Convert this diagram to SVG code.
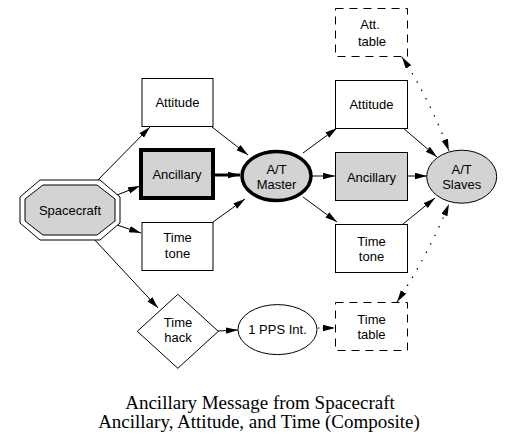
<svg xmlns="http://www.w3.org/2000/svg" width="516" height="447" viewBox="0 0 516 447">
<defs>
<marker id="arr" markerUnits="userSpaceOnUse" markerWidth="13" markerHeight="8" refX="12" refY="3.25" orient="auto-start-reverse">
<path d="M0,0 L12,3.25 L0,6.5 z" fill="#000"/>
</marker>
<style>
.box{fill:#fff;stroke:#000;stroke-width:1}
.gray{fill:#d3d3d3}
.dash{fill:#fff;stroke:#000;stroke-width:1;stroke-dasharray:8,6}
.t{font-family:"Liberation Sans",Arial,sans-serif;font-size:13px;text-anchor:middle;fill:#000}
.title{font-family:"Liberation Serif","Times New Roman",serif;font-size:19px;text-anchor:middle;fill:#000}
.e{fill:none;stroke:#000;stroke-width:1;marker-end:url(#arr)}
.dot{fill:none;stroke:#000;stroke-width:1.2;stroke-dasharray:1.5,8;marker-end:url(#arr);marker-start:url(#arr)}
</style>
</defs>
<rect width="516" height="447" fill="#fff"/>
<g id="connectors">
<line class="e" x1="95" y1="183" x2="150" y2="127"/>
<line class="e" x1="117" y1="195" x2="140" y2="186"/>
<line class="e" x1="117" y1="225" x2="141" y2="233"/>
<line class="e" x1="93" y1="238" x2="158" y2="308"/>
<line class="e" x1="212" y1="127" x2="248" y2="155"/>
<line class="e" x1="214" y1="175" x2="240" y2="175" style="stroke-width:3"/>
<line class="e" x1="213" y1="222" x2="245" y2="199"/>
<line class="e" x1="303" y1="153" x2="337" y2="128"/>
<line class="e" x1="312" y1="176" x2="335" y2="176"/>
<line class="e" x1="303" y1="197" x2="337" y2="222"/>
<line class="e" x1="403" y1="128" x2="437" y2="157"/>
<line class="e" x1="407" y1="176" x2="427" y2="176"/>
<line class="e" x1="403" y1="224" x2="435" y2="198"/>
<line class="e" x1="218" y1="331" x2="238" y2="330"/>
<line class="e" x1="318" y1="328" x2="335" y2="328" style="stroke-dasharray:1.5,3"/>
<path class="dot" d="M402,57 Q430,100 449,151"/>
<path class="dot" d="M397,302 Q428,255 449,204"/>
</g>
<g id="spacecraft">
<polygon points="40,180 100,180 120,197 120,223 100,240 40,240 20,223 20,197" class="box"/>
<polygon points="43,185 97,185 115,199 115,221 97,235 43,235 25,221 25,199" class="box gray"/>
<text class="t" x="70" y="215">Spacecraft</text>
</g>
<g id="attitude-l">
<rect class="box" x="142" y="78.5" width="71" height="48"/>
<text class="t" x="177.5" y="107">Attitude</text>
</g>
<g id="ancillary-l">
<rect class="box gray" x="141" y="150" width="72" height="48" style="stroke-width:4"/>
<text class="t" x="177" y="179">Ancillary</text>
</g>
<g id="timetone-l">
<rect class="box" x="142" y="222.5" width="71" height="48"/>
<text class="t" x="177.5" y="242">Time</text>
<text class="t" x="177.5" y="258">tone</text>
</g>
<g id="master">
<ellipse class="box gray" cx="276.5" cy="176" rx="34.5" ry="24.5" style="stroke-width:3.5"/>
<text class="t" x="276.5" y="174">A/T</text>
<text class="t" x="276.5" y="189">Master</text>
</g>
<g id="attitude-r">
<rect class="box" x="335.5" y="80.5" width="72" height="48"/>
<text class="t" x="371.5" y="109">Attitude</text>
</g>
<g id="ancillary-r">
<rect class="box gray" x="335.5" y="152.5" width="72" height="48"/>
<text class="t" x="371.5" y="182">Ancillary</text>
</g>
<g id="timetone-r">
<rect class="box" x="335.5" y="224.5" width="72" height="48"/>
<text class="t" x="371.5" y="246">Time</text>
<text class="t" x="371.5" y="261">tone</text>
</g>
<g id="slaves">
<ellipse class="box gray" cx="461.7" cy="176.7" rx="35" ry="26.5"/>
<text class="t" x="461.7" y="174">A/T</text>
<text class="t" x="461.7" y="189">Slaves</text>
</g>
<g id="att-table">
<rect class="dash" x="335.5" y="8.5" width="72" height="48"/>
<text class="t" x="370" y="29">Att.</text>
<text class="t" x="372" y="46">table</text>
</g>
<g id="time-table">
<rect class="dash" x="335.5" y="302.5" width="72" height="48"/>
<text class="t" x="371.5" y="324">Time</text>
<text class="t" x="371.5" y="339">table</text>
</g>
<g id="time-hack">
<polygon class="box" points="177.8,294.3 218.3,331.3 177.8,368.3 137.3,331.3"/>
<text class="t" x="178" y="327">Time</text>
<text class="t" x="178" y="342">hack</text>
</g>
<g id="pps">
<ellipse class="box" cx="277.5" cy="329.6" rx="39.5" ry="25"/>
<text class="t" x="277.5" y="334">1 PPS Int.</text>
</g>
<g id="title">
<text class="title" x="260" y="409">Ancillary Message from Spacecraft</text>
<text class="title" x="259" y="428">Ancillary, Attitude, and Time (Composite)</text>
</g>
</svg>
